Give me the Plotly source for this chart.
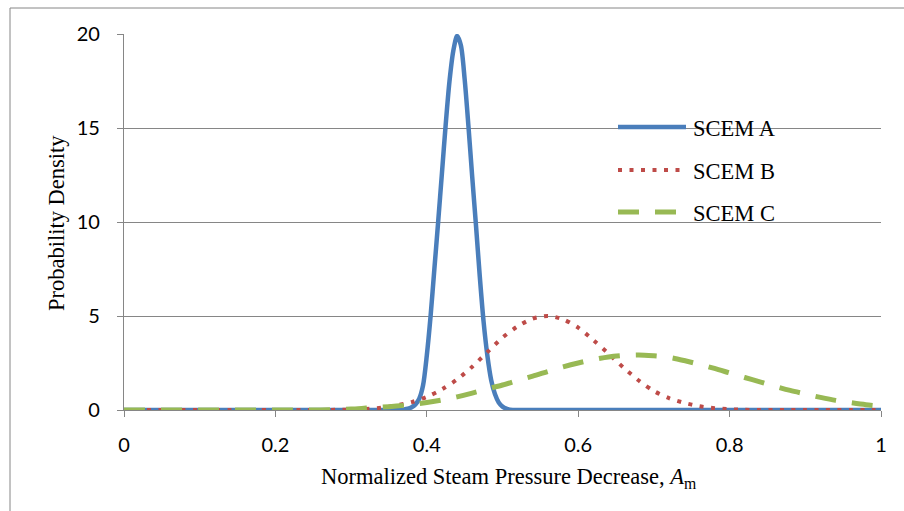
import plotly.graph_objects as go

# ---- data ----
x_a = [0.00, 0.05, 0.10, 0.15, 0.20, 0.25, 0.30, 0.34, 0.36, 0.37, 0.375, 0.38, 0.385,
       0.39, 0.395, 0.40, 0.405, 0.41, 0.415, 0.42, 0.425, 0.43, 0.435, 0.44, 0.445,
       0.45, 0.455, 0.46, 0.465, 0.47, 0.475, 0.48, 0.485, 0.49, 0.495, 0.50, 0.505,
       0.51, 0.52, 0.55, 0.60, 0.65, 0.70, 0.75, 0.80, 0.85, 0.90, 0.95, 1.00]
scem_a = [0, 0, 0, 0, 0, 0, 0, 0, 0.0, 0.03, 0.07, 0.15, 0.3,
          0.6, 1.3, 2.9, 5.0, 7.5, 10.0, 12.6, 15.2, 17.5, 19.1, 19.9, 19.4,
          17.6, 15.1, 12.4, 9.8, 7.1, 4.7, 2.9, 1.6, 0.85, 0.4, 0.18, 0.07,
          0.02, 0, 0, 0, 0, 0, 0, 0, 0, 0, 0, 0]

x_bc = [0.00, 0.02, 0.04, 0.06, 0.08, 0.10, 0.12, 0.14, 0.16, 0.18, 0.20, 0.22, 0.24,
        0.26, 0.28, 0.30, 0.32, 0.34, 0.36, 0.38, 0.40, 0.42, 0.44, 0.46, 0.48, 0.50,
        0.52, 0.54, 0.56, 0.58, 0.60, 0.62, 0.64, 0.66, 0.68, 0.70, 0.72, 0.74, 0.76,
        0.78, 0.80, 0.82, 0.84, 0.86, 0.88, 0.90, 0.92, 0.94, 0.96, 0.98, 1.00]
scem_b = [0, 0, 0, 0, 0, 0, 0, 0, 0, 0, 0, 0, 0,
          0, 0.01, 0.02, 0.05, 0.12, 0.25, 0.42, 0.70, 1.10, 1.62, 2.30, 3.08, 3.85,
          4.45, 4.86, 5.00, 4.82, 4.38, 3.72, 3.00, 2.25, 1.57, 1.01, 0.63, 0.38, 0.20,
          0.10, 0.04, 0.01, 0, 0, 0, 0, 0, 0, 0, 0, 0]
scem_c = [0, 0, 0, 0, 0, 0, 0, 0, 0, 0, 0, 0, 0,
          0, 0.02, 0.05, 0.10, 0.15, 0.21, 0.29, 0.40, 0.53, 0.70, 0.90, 1.12, 1.33,
          1.57, 1.80, 2.05, 2.29, 2.50, 2.68, 2.82, 2.90, 2.93, 2.88, 2.80, 2.63, 2.43,
          2.21, 1.97, 1.73, 1.50, 1.26, 1.04, 0.85, 0.67, 0.51, 0.39, 0.28, 0.20]

names = ["SCEM A", "SCEM B", "SCEM C"]
colors = ["#4A7EBB", "#BE4B48", "#98B954"]
dashes = ["solid", "4px,7.5px", "21px,16px"]
widths = [4.5, 4, 5]

x_ticks = [0, 0.2, 0.4, 0.6, 0.8, 1]
y_ticks = [0, 5, 10, 15, 20]

GRID = "#868686"
SERIF = "Liberation Serif, Times New Roman, serif"
SANS = "Lato, Open Sans, sans-serif"
TSIZE = 22.5

fig = go.Figure()
series = [(x_a, scem_a), (x_bc, scem_b), (x_bc, scem_c)]
for (xs, ys), n, c, d, w in zip(series, names, colors, dashes, widths):
    fig.add_trace(go.Scatter(x=xs, y=ys, mode="lines", name=n, showlegend=False,
                             line=dict(color=c, width=w, dash=d, shape="spline", smoothing=0.8)))

# plot area geometry (pixels) for paper-coordinate helpers
L, R, T, B = 124, 881, 34, 410
W, H = R - L, B - T
def px(x):
    return (x - L) / W
def py(y):
    return (B - y) / H

shapes = []
# outer chart frame
shapes.append(dict(type="rect", xref="paper", yref="paper", x0=px(10), x1=px(930),
                   y0=py(530), y1=py(8), line=dict(color=GRID, width=1), layer="above"))
# legend background
shapes.append(dict(type="rect", xref="paper", yref="paper", x0=px(608), x1=px(793),
                   y0=py(234), y1=py(108), fillcolor="white", line=dict(width=0), layer="between"))
annotations = []
leg_y = [127, 170, 212]
for n, c, d, w, yy in zip(names, colors, dashes, widths, leg_y):
    shapes.append(dict(type="line", xref="paper", yref="paper", x0=px(618), x1=px(686),
                       y0=py(yy), y1=py(yy), line=dict(color=c, width=w, dash=d), layer="above"))
    annotations.append(dict(xref="paper", yref="paper", x=px(691), y=py(yy + 1), text=n,
                            showarrow=False, xanchor="left", yanchor="middle",
                            font=dict(family=SERIF, size=TSIZE, color="black")))

annotations.append(dict(xref="paper", yref="paper", x=px(56), y=py(223),
                        text="Probability Density", textangle=-90, showarrow=False,
                        xanchor="center", yanchor="middle",
                        font=dict(family=SERIF, size=TSIZE, color="black")))
annotations.append(dict(xref="paper", yref="paper", x=px(508), y=py(478),
                        text="Normalized Steam Pressure Decrease, <i>A</i><sub>m</sub>",
                        showarrow=False, xanchor="center", yanchor="middle",
                        font=dict(family=SERIF, size=TSIZE, color="black")))

fig.update_layout(
    width=904, height=511,
    margin=dict(l=L, r=904 - R, t=T, b=511 - B, pad=0),
    paper_bgcolor="white", plot_bgcolor="white",
    showlegend=False,
    shapes=shapes, annotations=annotations,
    xaxis=dict(range=[0, 1], tickvals=x_ticks, showgrid=False, zeroline=False,
               showline=True, linecolor=GRID, linewidth=1.3,
               ticks="outside", ticklen=6, tickcolor=GRID, tickwidth=1.3,
               ticklabelstandoff=11,
               tickfont=dict(family=SANS, size=20, color="black")),
    yaxis=dict(range=[0, 20], tickvals=y_ticks, showgrid=True, gridcolor=GRID, gridwidth=1.3,
               zeroline=False, showline=True, linecolor=GRID, linewidth=1.3,
               ticks="outside", ticklen=6, tickcolor=GRID, tickwidth=1.3,
               ticklabelstandoff=13,
               tickfont=dict(family=SANS, size=20, color="black")),
)

fig.write_html("out.html")
